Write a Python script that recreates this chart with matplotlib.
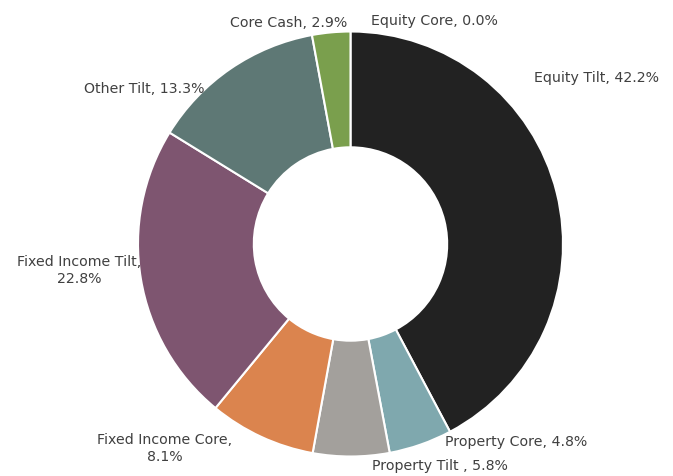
import matplotlib
matplotlib.use("Agg")
import matplotlib.pyplot as plt

categories = ["Equity Core", "Equity Tilt", "Property Core", "Property Tilt ",
              "Fixed Income Core", "Fixed Income Tilt", "Other Tilt", "Core Cash"]
values = [0.0, 42.2, 4.8, 5.8, 8.1, 22.8, 13.3, 2.9]
colors = ["#2a2a2a", "#222222", "#7fa8ae", "#a3a09c", "#db844e", "#7e5570", "#5e7875", "#7a9f4d"]

# label text positions (layout, in radius units)
label_pos = [(0.393, 1.056), (1.160, 0.788), (0.781, -0.929), (0.419, -1.038),
             (-0.875, -0.958), (-1.278, -0.12), (-0.972, 0.732), (-0.292, 1.047)]
two_line = {"Fixed Income Core", "Fixed Income Tilt"}

fig = plt.figure(figsize=(6.73, 4.77), dpi=100)
ax = fig.add_axes([0, 0, 1, 1])
wedges, _ = ax.pie(values, colors=colors, startangle=90, counterclock=False,
                   radius=1.0, wedgeprops=dict(width=0.545, edgecolor="white", linewidth=1.5))

for cat, val, (x, y) in zip(categories, values, label_pos):
    sep = ",\n" if cat in two_line else ", "
    ax.text(x, y, f"{cat}{sep}{val:.1f}%", ha="center", va="center",
            fontsize=10.2, color="#404040", family="DejaVu Sans", linespacing=1.25)

ax.set_aspect("auto")
ax.set_xlim(-350.5 / 212.5, (673 - 350.5) / 212.5)
ax.set_ylim(-(477 - 245.0) / 212.5, 245.0 / 212.5)
ax.axis("off")
fig.savefig("out.png", dpi=100)
